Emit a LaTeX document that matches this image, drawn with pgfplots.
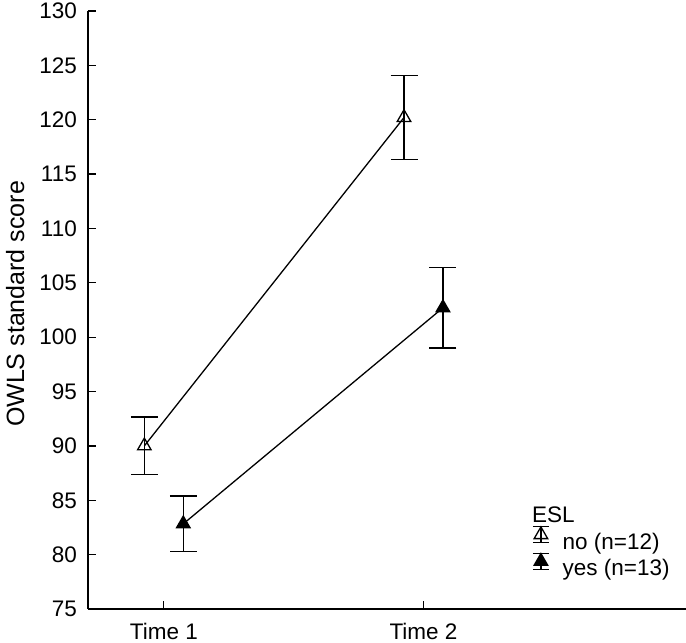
\documentclass[border=0pt]{standalone}
\usepackage{fontspec}
\setmainfont{Liberation Sans}
\usepackage{pgfplots}
\pgfplotsset{compat=1.18}
\usetikzlibrary{calc}
\begin{document}
\begin{tikzpicture}
\begin{axis}[
  scale only axis, width=598pt, height=598pt,
  xmin=0.708, xmax=3.011, ymin=75, ymax=130,
  axis x line*=bottom, axis y line*=left,
  axis line style={line width=1.3pt, -},
  xtick={1,2}, xticklabels={Time 1, Time 2},
  ytick={75,80,...,130},
  tick align=inside, major tick length=8pt,
  tick style={line width=1.3pt, black},
  every tick label/.append style={font=\fontsize{22.5}{27}\selectfont},
  /pgf/number format/assume math mode=true,
  yticklabel style={inner sep=0pt, xshift=-11pt},
  xticklabel style={inner sep=0pt, yshift=-14pt},
  ylabel={OWLS standard score},
  ylabel style={font=\fontsize{25}{30}\selectfont, at={(axis description cs:-0.1376,0.51)}, anchor=north, inner sep=0pt},
  clip=false,
  legend image code/.code={
    \draw[line width=1.4pt,solid,black] (0pt,-1pt) -- (0pt,15pt) (-8pt,-1pt) -- (8pt,-1pt) (-8pt,15pt) -- (8pt,15pt);
    \draw[#1, mark repeat=2, mark phase=2] plot coordinates {(-0.1pt,7pt) (0pt,7pt) (0.1pt,7pt)};
  },
  legend style={draw=none, fill=none, at={(axis cs:2.418,82.65)}, anchor=north west, inner sep=0pt,
    font=\fontsize{22.5}{27}\selectfont, row sep=2pt, nodes={inner sep=0pt},
    /tikz/every odd column/.append style={column sep=13pt}},
  legend cell align=left,
]
\addplot[black, line width=1.3pt, mark=triangle, mark size=7.8pt, mark options={fill=white, solid, line width=1.3pt},
  error bars/.cd, y dir=both, y explicit,
  error bar style={line width=1.4pt, black},
  error mark options={rotate=90, mark size=13.5pt, line width=1.4pt, black}]
  coordinates {(0.925,90.0) +- (0,2.65) (1.925,120.2) +- (0,3.85)};
\addlegendentry{no (n=12)}
\addplot[black, line width=1.3pt, mark=triangle*, mark size=7.8pt, mark options={fill=black, solid, line width=1.3pt},
  error bars/.cd, y dir=both, y explicit,
  error bar style={line width=1.4pt, black},
  error mark options={rotate=90, mark size=13.5pt, line width=1.4pt, black}]
  coordinates {(1.075,82.83) +- (0,2.55) (2.075,102.7) +- (0,3.7)};
\addlegendentry{yes (n=13)}
\node[anchor=north west, inner sep=0pt, font=\fontsize{22.5}{27}\selectfont] at (axis cs:2.418,84.4) {ESL};
\end{axis}
\pgfresetboundingbox
\path[use as bounding box] ($(current axis.south west)+(-88pt,-34pt)$) rectangle ($(current axis.north east)+(0pt,11pt)$);
\end{tikzpicture}
\end{document}
